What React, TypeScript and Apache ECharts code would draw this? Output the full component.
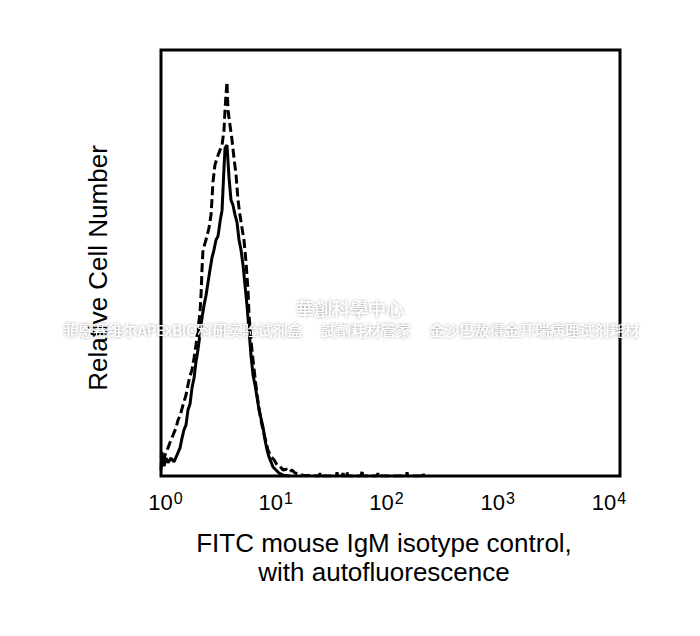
import React, { useEffect, useRef } from "react";
import * as echarts from "echarts";

// x: log10 of FITC intensity (decades), y: relative cell number (% of plot height)
const solidLogX = [0.000, 0.009, 0.026, 0.044, 0.061, 0.087, 0.113, 0.139, 0.166, 0.183, 0.200, 0.218, 0.235, 0.253, 0.270, 0.288, 0.305, 0.322, 0.340, 0.357, 0.375, 0.392, 0.410, 0.427, 0.444, 0.462, 0.479, 0.497, 0.514, 0.532, 0.549, 0.558, 0.575, 0.593, 0.610, 0.627, 0.645, 0.662, 0.680, 0.697, 0.715, 0.732, 0.749, 0.767, 0.784, 0.802, 0.819, 0.837, 0.854, 0.871, 0.889, 0.906, 0.924, 0.941, 0.959, 0.976, 1.002, 1.028, 1.063, 1.124];
const solidCount = [1.4, 5.6, 2.3, 4.2, 3.1, 4.2, 3.3, 4.9, 6.6, 8.9, 10.8, 12.0, 15.5, 16.9, 20.7, 23.0, 26.8, 29.6, 33.3, 37.1, 40.1, 42.3, 45.5, 48.4, 51.2, 53.1, 55.4, 56.3, 59.6, 62.4, 72.3, 77.0, 77.7, 70.0, 64.8, 63.6, 61.3, 59.6, 55.4, 53.1, 49.5, 44.8, 40.1, 34.3, 28.4, 23.7, 21.4, 18.5, 15.5, 13.6, 11.5, 8.5, 6.1, 4.5, 3.3, 2.1, 1.4, 0.7, 0.2, 0];

const dashedLogX = [0.000, 0.017, 0.035, 0.061, 0.087, 0.105, 0.131, 0.148, 0.166, 0.192, 0.218, 0.235, 0.253, 0.270, 0.288, 0.305, 0.322, 0.340, 0.349, 0.357, 0.366, 0.392, 0.418, 0.436, 0.444, 0.453, 0.470, 0.488, 0.514, 0.532, 0.549, 0.558, 0.566, 0.575, 0.584, 0.601, 0.619, 0.636, 0.654, 0.671, 0.688, 0.706, 0.723, 0.741, 0.758, 0.767, 0.784, 0.802, 0.819, 0.837, 0.854, 0.871, 0.889, 0.915, 0.932, 0.959, 0.985, 1.011, 1.037, 1.063, 1.089, 1.115, 1.142, 1.168, 1.203, 1.237, 1.380, 1.386, 1.392, 1.528, 1.534, 1.540, 1.580, 1.586, 1.592, 1.615, 1.621, 1.627, 1.746, 1.752, 1.758, 1.885, 1.891, 1.897, 2.138, 2.144, 2.150, 2.277, 2.283, 2.289];
const dashedCount = [4.9, 2.6, 4.9, 6.6, 8.5, 9.6, 11.3, 13.1, 14.1, 16.7, 19.0, 21.4, 23.5, 24.9, 27.7, 30.8, 34.3, 38.5, 42.5, 48.4, 53.1, 55.4, 58.2, 61.3, 64.8, 69.0, 73.0, 74.6, 76.5, 77.7, 81.2, 85.9, 89.4, 92.5, 85.9, 82.4, 78.9, 74.6, 70.7, 64.8, 61.3, 58.2, 55.4, 50.2, 43.7, 37.8, 31.9, 27.2, 23.2, 19.0, 16.0, 13.1, 10.8, 8.0, 6.1, 4.5, 3.8, 2.6, 2.3, 1.4, 1.6, 0.9, 1.4, 0.7, 0.5, 0.2, 0, 0.7, 0, 0, 0.9, 0, 0, 0.7, 0, 0, 0.9, 0, 0, 1.4, 0, 0, 0.7, 0, 0, 0.9, 0, 0, 0.7, 0];

const decadeTicks = [0, 1, 2, 3, 4];
const xTitle = "FITC mouse IgM isotype control,\nwith autofluorescence";
const yTitle = "Relative Cell Number";
const watermark1 = "華創科學中心";
const watermark2 = "菲恩赛维尔APExBIO科研实验试剂盒　 試劑耗材管家　 金沙巴敖得金开瑞病理试剂耗材";

const FONT = "'Liberation Sans', Arial, sans-serif";

export default function App() {
  const ref = useRef<HTMLDivElement>(null);
  useEffect(() => {
    if (!ref.current) return;
    const chart = echarts.init(ref.current, undefined, { renderer: "svg" });
    const leftPad: Record<number, number> = { 0: 9, 1: 0, 2: 0, 3: 0, 4: 0 };
    const rightPad: Record<number, number> = { 0: 0, 1: 0, 2: 8, 3: 15, 4: 22 };
    const rich: any = {};
    decadeTicks.forEach((d) => {
      rich["b" + d] = { fontSize: 22, fontFamily: FONT, color: "#000", lineHeight: 24, padding: [0, 0, 0, leftPad[d]] };
      rich["s" + d] = { fontSize: 16, fontFamily: FONT, color: "#000", verticalAlign: "top", lineHeight: 10, padding: [0, rightPad[d], 0, 1] };
    });
    chart.setOption({
      animation: false,
      backgroundColor: "#fff",
      grid: { left: 161, top: 50, width: 459, height: 426, show: true, borderColor: "#000", borderWidth: 3, backgroundColor: "transparent" },
      xAxis: {
        type: "value",
        min: 0,
        max: 4,
        interval: 1,
        axisLine: { show: false },
        axisTick: { show: false },
        splitLine: { show: false },
        axisLabel: {
          margin: 14,
          formatter: (v: number) => `{b${v}|10}{s${v}|${v}}`,
          rich,
        },
      },
      yAxis: {
        type: "value",
        min: 0,
        max: 100,
        axisLine: { show: false },
        axisTick: { show: false },
        splitLine: { show: false },
        axisLabel: { show: false },
      },
      series: [
        {
          type: "line",
          data: solidLogX.map((x, i) => [x, solidCount[i]]),
          showSymbol: false,
          lineStyle: { color: "#000", width: 3, type: "solid" },
          z: 3,
        },
        {
          type: "line",
          data: dashedLogX.map((x, i) => [x, dashedCount[i]]),
          showSymbol: false,
          lineStyle: { color: "#000", width: 3, type: [9, 4] },
          z: 4,
        },
      ],
      graphic: [
        {
          type: "text",
          x: 98,
          y: 268,
          rotation: Math.PI / 2,
          style: { text: yTitle, font: `26px ${FONT}`, fill: "#000", align: "center", verticalAlign: "middle" },
        },
        {
          type: "text",
          x: 384,
          y: 557.5,
          style: { text: xTitle, font: `26px ${FONT}`, fill: "#000", align: "center", verticalAlign: "middle", lineHeight: 29 },
        },
        {
          type: "text",
          x: 350,
          y: 308,
          z: 100,
          style: { text: watermark1, font: `18px 'Noto Sans CJK SC'`, fill: "#fff", align: "center", verticalAlign: "middle", textShadowColor: "rgba(0,0,0,0.45)", textShadowBlur: 3 },
        },
        {
          type: "text",
          x: 351,
          y: 329,
          z: 100,
          style: { text: watermark2, font: `15px 'Noto Sans CJK SC'`, fill: "#fff", align: "center", verticalAlign: "middle", textShadowColor: "rgba(0,0,0,0.45)", textShadowBlur: 3 },
        },
      ],
    });
    return () => chart.dispose();
  }, []);
  return <div ref={ref} style={{ position: "fixed", left: 0, top: 0, width: 700, height: 636 }} />;
}
